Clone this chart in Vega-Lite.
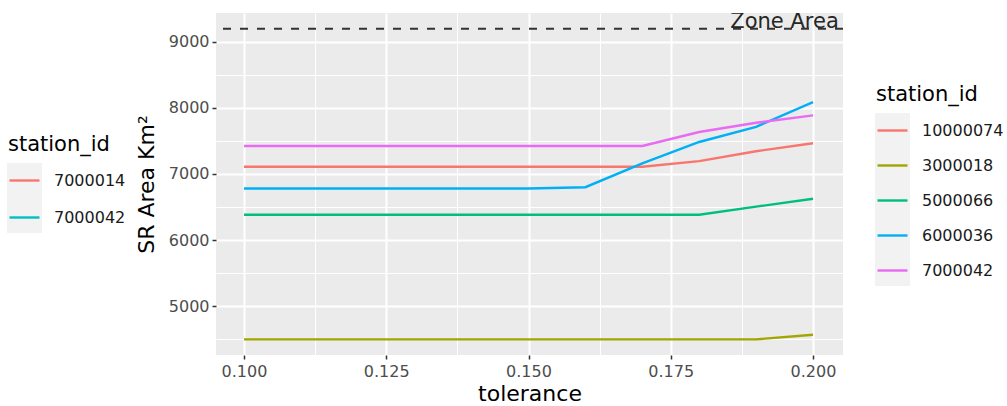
{
  "$schema": "https://vega.github.io/schema/vega-lite/v6.json",
  "width": 627,
  "height": 342,
  "autosize": {"type": "none"},
  "padding": {"left": 216, "top": 13, "right": 164, "bottom": 51},
  "background": "white",
  "config": {
    "font": "DejaVu Sans",
    "view": {"fill": "#EBEBEB", "stroke": null},
    "axis": {
      "domain": false,
      "tickColor": "#333333",
      "tickWidth": 1.5,
      "tickSize": 4,
      "labelColor": "#4D4D4D",
      "labelFontSize": 16,
      "titleFontSize": 22,
      "titleFontWeight": "normal",
      "titleColor": "black",
      "gridColor": "white",
      "gridWidth": 2
    },
    "legend": {
      "padding": 0,
      "titleFontSize": 21,
      "titleFontWeight": "normal",
      "titleColor": "black",
      "titlePadding": 9,
      "labelFontSize": 16,
      "labelColor": "#1A1A1A",
      "labelOffset": 13,
      "symbolType": "stroke",
      "symbolSize": 900,
      "symbolStrokeWidth": 2.4
    }
  },
  "datasets": {
    "areas": [
      {"station_id": "10000074", "tolerance": 0.10, "area": 7110},
      {"station_id": "10000074", "tolerance": 0.11, "area": 7110},
      {"station_id": "10000074", "tolerance": 0.12, "area": 7110},
      {"station_id": "10000074", "tolerance": 0.13, "area": 7110},
      {"station_id": "10000074", "tolerance": 0.14, "area": 7110},
      {"station_id": "10000074", "tolerance": 0.15, "area": 7110},
      {"station_id": "10000074", "tolerance": 0.16, "area": 7110},
      {"station_id": "10000074", "tolerance": 0.17, "area": 7110},
      {"station_id": "10000074", "tolerance": 0.18, "area": 7195},
      {"station_id": "10000074", "tolerance": 0.19, "area": 7345},
      {"station_id": "10000074", "tolerance": 0.20, "area": 7465},
      {"station_id": "3000018", "tolerance": 0.10, "area": 4495},
      {"station_id": "3000018", "tolerance": 0.11, "area": 4495},
      {"station_id": "3000018", "tolerance": 0.12, "area": 4495},
      {"station_id": "3000018", "tolerance": 0.13, "area": 4495},
      {"station_id": "3000018", "tolerance": 0.14, "area": 4495},
      {"station_id": "3000018", "tolerance": 0.15, "area": 4495},
      {"station_id": "3000018", "tolerance": 0.16, "area": 4495},
      {"station_id": "3000018", "tolerance": 0.17, "area": 4495},
      {"station_id": "3000018", "tolerance": 0.18, "area": 4495},
      {"station_id": "3000018", "tolerance": 0.19, "area": 4495},
      {"station_id": "3000018", "tolerance": 0.20, "area": 4565},
      {"station_id": "5000066", "tolerance": 0.10, "area": 6383},
      {"station_id": "5000066", "tolerance": 0.11, "area": 6383},
      {"station_id": "5000066", "tolerance": 0.12, "area": 6383},
      {"station_id": "5000066", "tolerance": 0.13, "area": 6383},
      {"station_id": "5000066", "tolerance": 0.14, "area": 6383},
      {"station_id": "5000066", "tolerance": 0.15, "area": 6383},
      {"station_id": "5000066", "tolerance": 0.16, "area": 6383},
      {"station_id": "5000066", "tolerance": 0.17, "area": 6383},
      {"station_id": "5000066", "tolerance": 0.18, "area": 6383},
      {"station_id": "5000066", "tolerance": 0.19, "area": 6505},
      {"station_id": "5000066", "tolerance": 0.20, "area": 6625},
      {"station_id": "6000036", "tolerance": 0.10, "area": 6780},
      {"station_id": "6000036", "tolerance": 0.11, "area": 6780},
      {"station_id": "6000036", "tolerance": 0.12, "area": 6780},
      {"station_id": "6000036", "tolerance": 0.13, "area": 6780},
      {"station_id": "6000036", "tolerance": 0.14, "area": 6780},
      {"station_id": "6000036", "tolerance": 0.15, "area": 6780},
      {"station_id": "6000036", "tolerance": 0.16, "area": 6800},
      {"station_id": "6000036", "tolerance": 0.17, "area": 7160},
      {"station_id": "6000036", "tolerance": 0.18, "area": 7485},
      {"station_id": "6000036", "tolerance": 0.19, "area": 7715},
      {"station_id": "6000036", "tolerance": 0.20, "area": 8090},
      {"station_id": "7000042", "tolerance": 0.10, "area": 7424},
      {"station_id": "7000042", "tolerance": 0.11, "area": 7424},
      {"station_id": "7000042", "tolerance": 0.12, "area": 7424},
      {"station_id": "7000042", "tolerance": 0.13, "area": 7424},
      {"station_id": "7000042", "tolerance": 0.14, "area": 7424},
      {"station_id": "7000042", "tolerance": 0.15, "area": 7424},
      {"station_id": "7000042", "tolerance": 0.16, "area": 7424},
      {"station_id": "7000042", "tolerance": 0.17, "area": 7424},
      {"station_id": "7000042", "tolerance": 0.18, "area": 7636},
      {"station_id": "7000042", "tolerance": 0.19, "area": 7777},
      {"station_id": "7000042", "tolerance": 0.20, "area": 7889}
    ],
    "zone": [
      {"tolerance": 0.195, "area": 9200, "label": "Zone Area"}
    ],
    "other_stations": []
  },
  "resolve": {"scale": {"color": "independent"}, "legend": {"color": "independent"}},
  "layer": [
    {
      "description": "minor grid lines, drawn by a secondary label-free axis pair",
      "data": {"name": "other_stations"},
      "mark": {"type": "line"},
      "encoding": {
        "x": {
          "field": "tolerance", "type": "quantitative",
          "axis": {"orient": "top", "values": [0.1125, 0.1375, 0.1625, 0.1875], "labels": false, "ticks": false, "domain": false, "title": null, "grid": true, "gridWidth": 1}
        },
        "y": {
          "field": "area", "type": "quantitative",
          "axis": {"orient": "right", "values": [4500, 5500, 6500, 7500, 8500], "labels": false, "ticks": false, "domain": false, "title": null, "grid": true, "gridWidth": 1}
        }
      }
    },
    {
      "description": "grey key column behind the left legend",
      "data": {"name": "other_stations"},
      "mark": {"type": "line"},
      "encoding": {
        "x": {"field": "tolerance", "type": "quantitative", "axis": null},
        "y": {"field": "area", "type": "quantitative", "axis": null},
        "color": {
          "field": "station_id",
          "type": "nominal",
          "scale": {"domain": ["7000014", "7000042"], "range": ["#F2F2F2", "#F2F2F2"]},
          "legend": {
            "orient": "none", "legendX": -209, "legendY": 150,
            "title": null, "symbolType": "square", "symbolSize": 462, "symbolOpacity": 0,
            "labelExpr": "''", "labelFontSize": 1, "labelOffset": 0,
            "rowPadding": 13, "padding": 5.5, "fillColor": "#F2F2F2"
          }
        }
      }
    },
    {
      "data": {"name": "other_stations"},
      "mark": {"type": "line", "strokeWidth": 2.4},
      "encoding": {
        "x": {"field": "tolerance", "type": "quantitative", "axis": null},
        "y": {"field": "area", "type": "quantitative", "axis": null},
        "color": {
          "field": "station_id",
          "type": "nominal",
          "scale": {"domain": ["7000014", "7000042"], "range": ["#F8766D", "#00BFC4"]},
          "legend": {
            "orient": "none", "legendX": -208, "legendY": 121,
            "title": "station_id", "rowPadding": 12
          }
        }
      }
    },
    {
      "description": "grey key column behind the right legend",
      "data": {"name": "other_stations"},
      "mark": {"type": "line"},
      "encoding": {
        "x": {"field": "tolerance", "type": "quantitative", "axis": null},
        "y": {"field": "area", "type": "quantitative", "axis": null},
        "color": {
          "field": "station_id",
          "type": "nominal",
          "scale": {"domain": ["10000074", "3000018", "5000066", "6000036", "7000042"], "range": ["#F2F2F2", "#F2F2F2", "#F2F2F2", "#F2F2F2", "#F2F2F2"]},
          "legend": {
            "orient": "none", "legendX": 659, "legendY": 100,
            "title": null, "symbolType": "square", "symbolSize": 462, "symbolOpacity": 0,
            "labelExpr": "''", "labelFontSize": 1, "labelOffset": 0,
            "rowPadding": 11.6, "padding": 5.5, "fillColor": "#F2F2F2"
          }
        }
      }
    },
    {
      "data": {"name": "areas"},
      "mark": {"type": "line", "strokeWidth": 2.4},
      "encoding": {
        "x": {
          "field": "tolerance",
          "type": "quantitative",
          "title": "tolerance",
          "scale": {"domain": [0.09508, 0.20527], "nice": false, "zero": false},
          "axis": {
            "orient": "bottom",
            "grid": true,
            "values": [0.1, 0.125, 0.15, 0.175, 0.2],
            "format": ".3f",
            "labelPadding": 4,
            "titlePadding": 4
          }
        },
        "y": {
          "field": "area",
          "type": "quantitative",
          "title": "SR Area Km²",
          "scale": {"domain": [4258, 9439], "nice": false, "zero": false},
          "axis": {
            "orient": "left",
            "grid": true,
            "values": [5000, 6000, 7000, 8000, 9000],
            "format": "d",
            "labelPadding": 3,
            "titlePadding": 10
          }
        },
        "color": {
          "field": "station_id",
          "type": "nominal",
          "scale": {
            "domain": ["10000074", "3000018", "5000066", "6000036", "7000042"],
            "range": ["#F8766D", "#A3A500", "#00BF7D", "#00B0F6", "#E76BF3"]
          },
          "legend": {
            "orient": "none", "legendX": 660, "legendY": 71,
            "title": "station_id", "rowPadding": 10
          }
        }
      }
    },
    {
      "data": {"name": "zone"},
      "mark": {"type": "rule", "color": "#333333", "strokeWidth": 2, "strokeDash": [8, 9]},
      "encoding": {
        "y": {"field": "area", "type": "quantitative", "axis": null}
      }
    },
    {
      "data": {"name": "zone"},
      "mark": {"type": "text", "clip": true, "fontSize": 21, "color": "#262626", "align": "center", "baseline": "alphabetic", "dy": -1},
      "encoding": {
        "x": {"field": "tolerance", "type": "quantitative", "axis": null},
        "y": {"field": "area", "type": "quantitative", "axis": null},
        "text": {"field": "label"}
      }
    }
  ]
}
